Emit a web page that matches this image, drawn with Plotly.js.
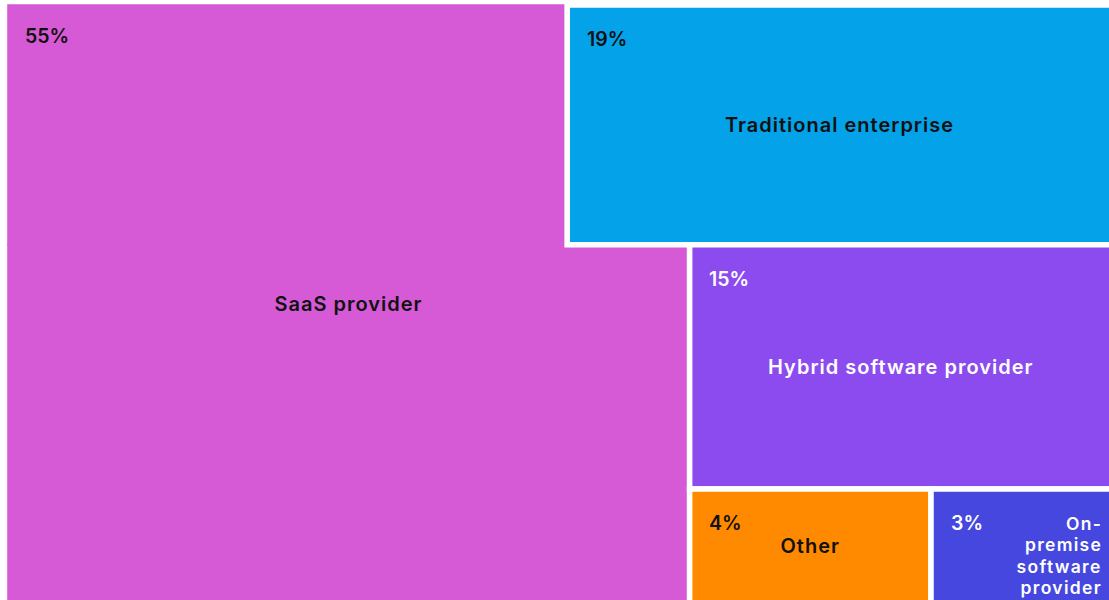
<!DOCTYPE html>
<html>
<head>
<meta charset="utf-8">
<script src="https://cdn.plot.ly/plotly-3.0.1.min.js"></script>
<style>
  html, body { margin: 0; padding: 0; overflow: hidden; background: #ffffff; }
  #chart { width: 1120px; height: 610px; }
</style>
</head>
<body>
<div id="chart"></div>
<script>
// ---- data ----
const categories = ['SaaS provider', 'Traditional enterprise', 'Hybrid software provider', 'Other', 'On-premise software provider'];
const shares = [55, 19, 15, 4, 3];                 // percent of respondents
const displayNames = ['SaaS provider', 'Traditional enterprise', 'Hybrid software provider', 'Other', 'On-<br>premise<br>software<br>provider'];
const saasUpperPart = 19.5;                        // part of the SaaS tile that lies in the upper band

// ---- styles ----
const tileColors = ['#D65AD6', '#04A2E8', '#8C4BEE', '#FF8A00', '#4547DF'];
const textColors = ['#111111', '#111111', '#FFFFFF', '#111111', '#FFFFFF'];
const FONT = 'Inter, "Noto Sans", "DejaVu Sans", sans-serif';
const GAP = 5.6;
const W = 1120, H = 610;
const M = { l: 8, r: 8, t: 5, b: 7 };
const PW = W - M.l - M.r, PH = H - M.t - M.b;

// ---- hierarchy (slice / dice partition) ----
const nodes = [
  { id: 'root',       parent: '',      cat: null, value: 0 },
  { id: 'lower',      parent: 'root',  cat: null, value: 0 },
  { id: 'upper',      parent: 'root',  cat: null, value: 0 },
  { id: 'saas-lower', parent: 'lower', cat: 0,    value: shares[0] - saasUpperPart },
  { id: 'right',      parent: 'lower', cat: null, value: 0 },
  { id: 'saas-upper', parent: 'upper', cat: 0,    value: saasUpperPart },
  { id: 'trad',       parent: 'upper', cat: 1,    value: shares[1] },
  { id: 'row',        parent: 'right', cat: null, value: 0 },
  { id: 'hybrid',     parent: 'right', cat: 2,    value: shares[2] },
  { id: 'other',      parent: 'row',   cat: 3,    value: shares[3] },
  { id: 'onprem',     parent: 'row',   cat: 4,    value: shares[4] }
];
const ids = nodes.map(n => n.id);
// white separators around every tile except the two halves of the SaaS tile,
// which get a thin stroke of their own colour so that they join seamlessly
const whiteW = nodes.map(n => (n.cat === null || n.cat === 0) ? 0 : GAP);
const lineW = nodes.map(n => n.cat === 0 ? 1.6 : (n.cat === null ? 0 : GAP));
const lineC = nodes.map(n => n.cat === 0 ? tileColors[0] : '#FFFFFF');

const trace = {
  type: 'treemap',
  ids: ids,
  parents: nodes.map(n => n.parent),
  labels: nodes.map(n => n.cat === null ? '' : categories[n.cat]),
  values: nodes.map(n => n.value),
  branchvalues: 'remainder',
  sort: false,
  textinfo: 'none',
  hoverinfo: 'skip',
  marker: {
    colors: nodes.map(n => n.cat === null ? '#FFFFFF' : tileColors[n.cat]),
    line: { color: lineC, width: lineW },
    pad: { t: 0, l: 0, r: 0, b: 0 },
    depthfade: false
  },
  tiling: { packing: 'dice-slice', flip: 'y', pad: 0 },
  pathbar: { visible: false },
  domain: { x: [0, 1], y: [0, 1] }
};

const layout = {
  width: W, height: H,
  margin: M,
  paper_bgcolor: '#FFFFFF',
  showlegend: false,
  font: { family: FONT }
};

function nodeId(pt) {
  let d = pt;
  for (let k = 0; k < 4 && d; k++) {
    if (typeof d.id === 'string' && ids.indexOf(d.id) >= 0) return d.id;
    d = d.data;
  }
  return null;
}
function toPaper(px, py) { return [(px - M.l) / PW, 1 - (py - M.t) / PH]; }

const gd = document.getElementById('chart');
Plotly.newPlot(gd, [trace], layout, { staticPlot: true, displayModeBar: false }).then(() => {
  const base = gd.getBoundingClientRect();
  const boxes = {};
  gd.querySelectorAll('g.slice').forEach((g, idx) => {
    const path = g.querySelector('path.surface') || g.querySelector('path');
    if (!path) return;
    const id = nodeId(g.__data__) || (nodes[idx] && nodes[idx].id);
    const r = path.getBoundingClientRect();
    const half = (whiteW[ids.indexOf(id)] || 0) / 2;
    boxes[id] = {
      x0: r.left - base.left + half, x1: r.right - base.left - half,
      y0: r.top - base.top + half,   y1: r.bottom - base.top - half
    };
  });

  const annotations = [];
  const spacing = [];
  const add = (txt, px, py, opts, color, size, ls) => {
    const p = toPaper(px, py);
    annotations.push(Object.assign({
      text: txt, xref: 'paper', yref: 'paper', x: p[0], y: p[1],
      showarrow: false,
      font: { family: FONT, size: size, color: color, weight: 600 }
    }, opts));
    spacing.push(ls);
  };

  const PCT = 19.5, NAME = 20, SMALL = 17.5, PITCH = 21.3;
  categories.forEach((cat, i) => {
    const leaves = nodes.filter(n => n.cat === i).map(n => boxes[n.id]).filter(Boolean);
    if (!leaves.length) return;
    const first = leaves.reduce((a, b) => (b.y0 < a.y0 - 0.5 || (Math.abs(b.y0 - a.y0) <= 0.5 && b.x0 < a.x0)) ? b : a);
    const u = {
      x0: Math.min(...leaves.map(b => b.x0)), x1: Math.max(...leaves.map(b => b.x1)),
      y0: Math.min(...leaves.map(b => b.y0)), y1: Math.max(...leaves.map(b => b.y1))
    };
    // percentage, top-left corner
    const pctMid = first.y0 + 31;
    add(shares[i] + '%', first.x0 + 15, pctMid,
        { xanchor: 'left', yanchor: 'middle', align: 'left' }, textColors[i], PCT, 0);
    // category name
    const lines = displayNames[i].split('<br>');
    if (lines.length === 1) {
      add(lines[0], (u.x0 + u.x1) / 2, (u.y0 + u.y1) / 2,
          { xanchor: 'center', yanchor: 'middle', align: 'center' }, textColors[i], NAME, 1);
    } else {
      // narrow tile: wrapped, right-aligned, first line on the baseline of the percentage
      const baseline0 = pctMid + 0.727 * PCT / 2;
      lines.forEach((ln, k) => add(ln, u.x1 - 5, baseline0 - 0.727 * SMALL / 2 + k * PITCH,
        { xanchor: 'right', yanchor: 'middle', align: 'right' }, textColors[i], SMALL, 1.3));
    }
  });

  return Plotly.relayout(gd, { annotations: annotations }).then(() => {
    gd.querySelectorAll('g.annotation').forEach(g => {
      const k = +g.getAttribute('data-index');
      const t = g.querySelector('text.annotation-text');
      if (t && spacing[k]) t.style.letterSpacing = spacing[k] + 'px';
    });
  });
});
</script>
</body>
</html>
